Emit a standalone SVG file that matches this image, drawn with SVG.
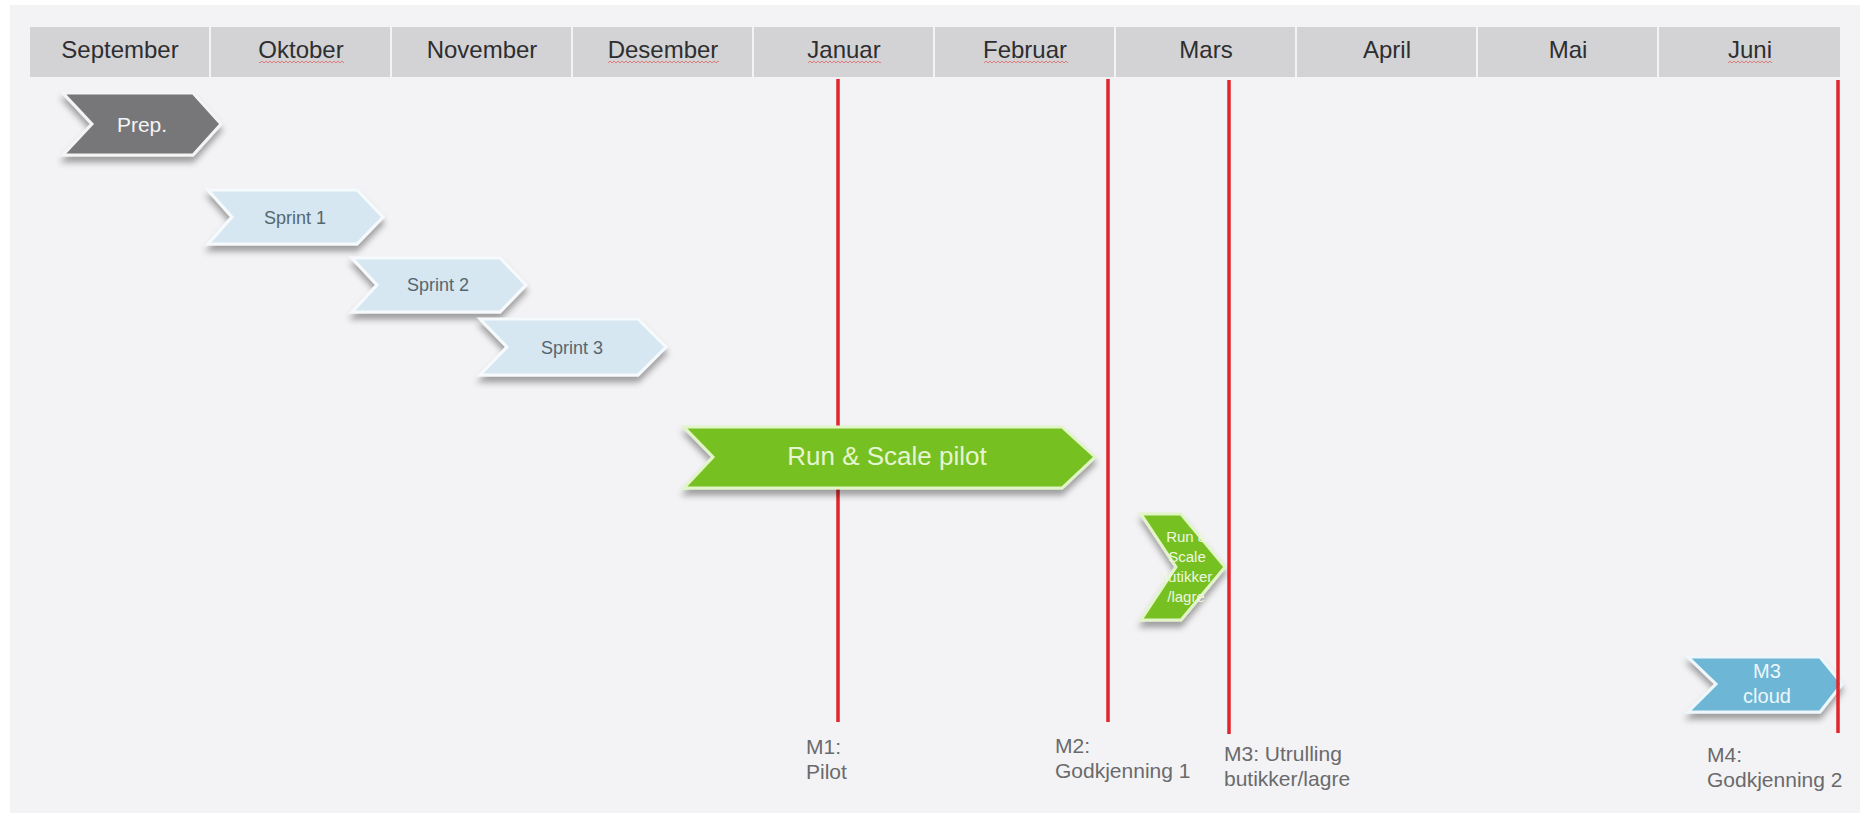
<svg xmlns="http://www.w3.org/2000/svg" width="1870" height="820" viewBox="0 0 1870 820">
<defs>
<filter id="sh" x="-15%" y="-25%" width="130%" height="170%">
<feDropShadow dx="0" dy="6" stdDeviation="3" flood-color="#000" flood-opacity="0.35"/>
</filter>
<pattern id="wave" width="4" height="4" patternUnits="userSpaceOnUse">
<path d="M0 3 L2 1 L4 3" fill="none" stroke="#e07070" stroke-width="0.9"/>
</pattern>
<style>
.cell{fill:#d3d3d5}
.month{font-family:"Liberation Sans",Arial,sans-serif;font-size:24px;fill:#2e2e30;text-anchor:middle}
.ms{stroke:#e0252b;stroke-width:3.5;fill:none}
.lbl{font-family:"Liberation Sans",Arial,sans-serif;font-size:21px;fill:#6a6a6c}
.chev{filter:url(#sh);stroke-width:3;stroke-linejoin:miter}
.prep{fill:#777779;stroke:#f4f4f4}
.spr{fill:#d6e7f1;stroke:#f6fafd}
.green{fill:#77c021;stroke:#e2f5c8}
.blue{fill:#6db6d6;stroke:#eef7fb}
.t{font-family:"Liberation Sans",Arial,sans-serif;text-anchor:middle}
</style>
</defs>
<rect width="1870" height="820" fill="#ffffff"/>
<rect x="10" y="5" width="1850" height="808" fill="#f3f3f5"/>
<g id="header">
<rect class="cell" x="30" y="27" width="179" height="50"/>
<rect class="cell" x="211" y="27" width="179" height="50"/>
<rect class="cell" x="392" y="27" width="179" height="50"/>
<rect class="cell" x="573" y="27" width="179" height="50"/>
<rect class="cell" x="754" y="27" width="179" height="50"/>
<rect class="cell" x="935" y="27" width="179" height="50"/>
<rect class="cell" x="1116" y="27" width="179" height="50"/>
<rect class="cell" x="1297" y="27" width="179" height="50"/>
<rect class="cell" x="1478" y="27" width="179" height="50"/>
<rect class="cell" x="1659" y="27" width="181" height="50"/>
<text class="month" x="120" y="58">September</text>
<text class="month" x="301" y="58">Oktober</text>
<text class="month" x="482" y="58">November</text>
<text class="month" x="663" y="58">Desember</text>
<text class="month" x="844" y="58">Januar</text>
<text class="month" x="1025" y="58">Februar</text>
<text class="month" x="1206" y="58">Mars</text>
<text class="month" x="1387" y="58">April</text>
<text class="month" x="1568" y="58">Mai</text>
<text class="month" x="1750" y="58">Juni</text>
<rect x="259" y="60" width="85" height="4" fill="url(#wave)"/>
<rect x="608" y="60" width="111" height="4" fill="url(#wave)"/>
<rect x="808" y="60" width="73" height="4" fill="url(#wave)"/>
<rect x="984" y="60" width="84" height="4" fill="url(#wave)"/>
<rect x="1728" y="60" width="44" height="4" fill="url(#wave)"/>
</g>
<g id="prep">
<polygon class="chev prep" points="63,93 193,93 221,124 193,155 63,155 92,124"/>
<text class="t" x="142" y="132" font-size="21" fill="#f4f4f4">Prep.</text>
</g>
<g id="sprint1">
<polygon class="chev spr" points="208,190 357,190 383,217 357,244 208,244 232,217"/>
<text class="t" x="295" y="224" font-size="18" fill="#55666f">Sprint 1</text>
</g>
<g id="sprint2">
<polygon class="chev spr" points="352,258 500,258 526,285 500,312 352,312 377,285"/>
<text class="t" x="438" y="291" font-size="18" fill="#55666f">Sprint 2</text>
</g>
<g id="sprint3">
<polygon class="chev spr" points="480,319 638,319 666,347 638,375 480,375 507,347"/>
<text class="t" x="572" y="354" font-size="18" fill="#55666f">Sprint 3</text>
</g>
<g id="runscale-butikker">
<polygon class="chev green" points="1141,514 1181,514 1225,567 1181,620 1141,620 1176,567"/>
<text class="t" x="1187" y="542" font-size="15" fill="#eef8e0">Run &amp;</text>
<text class="t" x="1187" y="562" font-size="15" fill="#eef8e0">Scale</text>
<text class="t" x="1186" y="582" font-size="15" fill="#eef8e0">butikker</text>
<text class="t" x="1186" y="602" font-size="15" fill="#eef8e0">/lagre</text>
</g>
<g id="m3cloud">
<polygon class="chev blue" points="1688,657 1820,657 1842,684 1820,712 1688,712 1716,684"/>
<text class="t" x="1767" y="678" font-size="20" fill="#eef7fb">M3</text>
<text class="t" x="1767" y="703" font-size="20" fill="#eef7fb">cloud</text>
</g>
<g id="milestones">
<line class="ms" x1="838" y1="79" x2="838" y2="722"/>
<line class="ms" x1="1108" y1="79" x2="1108" y2="722"/>
<line class="ms" x1="1229" y1="80" x2="1229" y2="734"/>
<line class="ms" x1="1838" y1="80" x2="1838" y2="733"/>
</g>
<g id="pilot">
<polygon class="chev green" points="684,427 1062,427 1095,457 1062,488 684,488 713,457"/>
<text class="t" x="887" y="465" font-size="26" fill="#e6f5d2">Run &amp; Scale pilot</text>
</g>
<g id="m1">
<text class="lbl" x="806" y="754">M1:</text>
<text class="lbl" x="806" y="779">Pilot</text>
</g>
<g id="m2">
<text class="lbl" x="1055" y="753">M2:</text>
<text class="lbl" x="1055" y="778">Godkjenning 1</text>
</g>
<g id="m3">
<text class="lbl" x="1224" y="761">M3: Utrulling</text>
<text class="lbl" x="1224" y="786">butikker/lagre</text>
</g>
<g id="m4">
<text class="lbl" x="1707" y="762">M4:</text>
<text class="lbl" x="1707" y="787">Godkjenning 2</text>
</g>
</svg>
